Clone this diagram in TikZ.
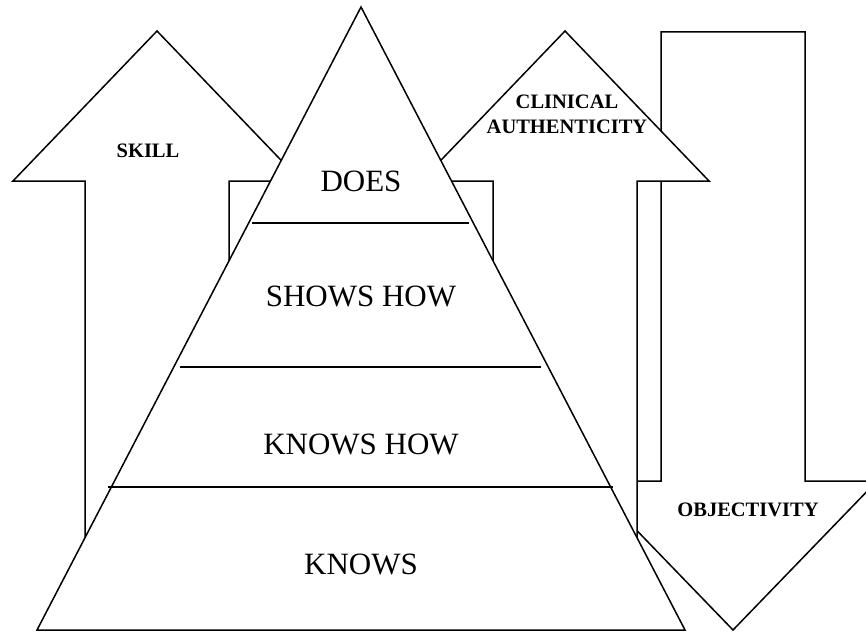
\documentclass[tikz,border=0pt]{standalone}
\usepackage{fontspec}
\setmainfont{Liberation Serif}
\begin{document}
\begin{tikzpicture}[x=1pt,y=-1pt,
  figshape/.style={draw=black,fill=white,line width=1.5pt,line join=miter},
  divider/.style={line width=1.5pt},
  level/.style={font=\fontsize{31}{37}\selectfont},
  tag/.style={font=\bfseries\fontsize{20.5}{25}\selectfont,align=center}]
\useasboundingbox (0,0) rectangle (866,634);
\begin{scope}
\clip (0,0) rectangle (866,634);
% down arrow (objectivity)
\draw[figshape] (661,32) -- (805,32) -- (805,481) -- (877,481) -- (733,630) -- (589,481) -- (661,481) -- cycle;
% middle up arrow (clinical authenticity)
\draw[figshape] (565,31) -- (709,181) -- (637,181) -- (637,600) -- (493,600) -- (493,181) -- (421,181) -- cycle;
% left up arrow (skill)
\draw[figshape] (157,31) -- (301,181) -- (229,181) -- (229,600) -- (85,600) -- (85,181) -- (13,181) -- cycle;
% pyramid
\coordinate (apex) at (361,7);
\coordinate (bl) at (37,630);
\coordinate (br) at (685,630);
\draw[figshape] (apex) -- (bl) -- (br) -- cycle;
\draw[divider] (252,223) -- (469,223);
\draw[divider] (180,367) -- (541,367);
\draw[divider] (108,487) -- (613,487);
\end{scope}
\node[level] (does) at (361,181) {DOES};
\node[level] (shows) at (361,296) {SHOWS HOW};
\node[level] (knowshow) at (361,444) {KNOWS HOW};
\node[level] (knows) at (361,564) {KNOWS};
\node[tag] (skill) at (148,151) {SKILL};
\node[tag] (clin) at (567,114) {CLINICAL\\AUTHENTICITY};
\node[tag] (obj) at (748,510) {OBJECTIVITY};
\end{tikzpicture}
\end{document}
